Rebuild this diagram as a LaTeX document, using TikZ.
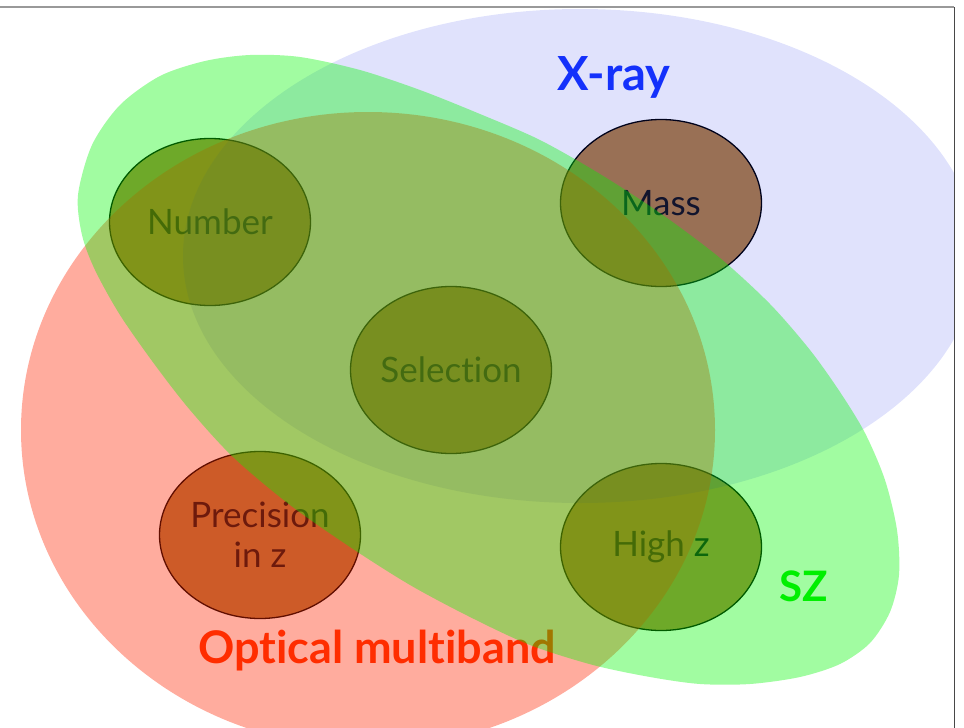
\documentclass[tikz,border=0pt]{standalone}
\usepackage{fontspec}
\setmainfont{Lato}[Ligatures={NoCommon,NoContextual}]
\usetikzlibrary{shapes.geometric}
\definecolor{xrayblue}{RGB}{0,20,230}
\definecolor{opticred}{RGB}{255,37,0}
\definecolor{szgreen}{RGB}{0,247,0}
\definecolor{blobfill}{RGB}{175,125,66}
\definecolor{xraytext}{RGB}{23,54,255}
\definecolor{optictext}{RGB}{255,50,0}
\definecolor{sztext}{RGB}{0,235,0}

\begin{document}
\begin{tikzpicture}[x=1pt, y=-1pt,
  blob/.style={ellipse, draw=black, line width=1.3pt, fill=blobfill, minimum width=201pt, minimum height=167pt, inner sep=0pt, align=center, text=black!92, font=\fontsize{35}{40}\selectfont},
  tag/.style={font=\fontsize{42}{48}\selectfont\bfseries}]
\useasboundingbox (0,0) rectangle (964,728);
\node[blob] (number) at (210,222) {Number};
\node[blob] (mass) at (661,203) {Mass};
\node[blob] (selection) at (451,370) {Selection};
\node[blob] (precision) at (260,535) {Precision\\in z};
\node[blob] (highz) at (661,547) {High z};
\node[tag, text=xraytext, font=\fontsize{47}{52}\selectfont\bfseries] (xray) at (614,77) {X-ray};
\node[tag, text=sztext] (sz) at (804,586) {SZ};
\node[tag, text=optictext, font=\fontsize{45}{50}\selectfont\bfseries] (optical) at (377,651) {Optical multiband};
\begin{scope}
\clip (0,7) rectangle (954,728);
\fill[xrayblue, opacity=0.12] (580,256) ellipse [x radius=397pt, y radius=247pt];
\fill[opticred, opacity=0.38] (368,430) ellipse [x radius=347pt, y radius=318pt];
\fill[szgreen, opacity=0.37] plot[smooth cycle] coordinates {
  (78,195) (92,145) (120,105) (160,76) (205,61) (250,55) (300,57) (360,70)
  (420,90) (480,114) (540,140) (600,174) (660,213) (720,258) (770,304) (810,350)
  (840,392) (865,433) (885,480) (897,530) (899,575) (890,612) (870,643) (840,664)
  (800,677) (750,684) (700,684) (650,677) (593,665) (530,645) (470,617) (410,585)
  (350,547) (290,505) (233,457) (190,410) (155,365) (120,315) (95,270) (82,235)};
\end{scope}
\draw[black!40, line width=1.5pt] (0,7) -- (954,7);
\draw[black!72, line width=1.5pt] (954.5,7) -- (954.5,728);
\end{tikzpicture}
\end{document}
